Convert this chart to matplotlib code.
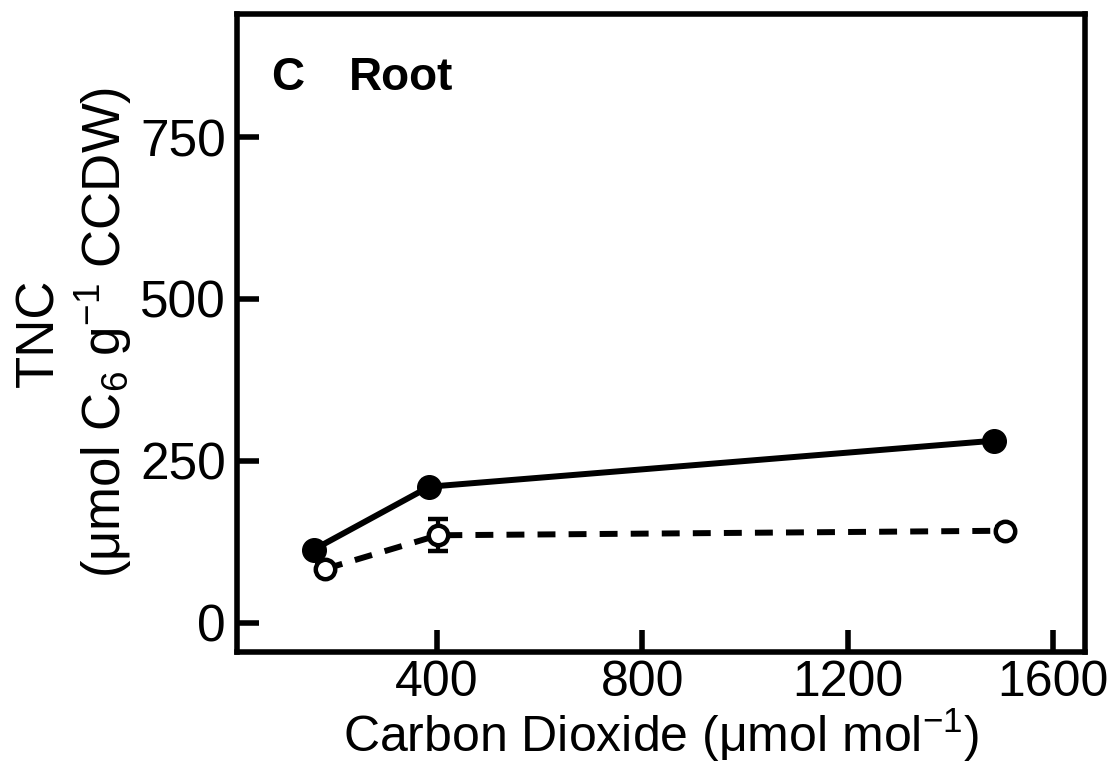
import matplotlib.pyplot as plt
import numpy as np

plt.rcParams['font.family'] = ['Liberation Sans', 'DejaVu Sans']
plt.rcParams['mathtext.fontset'] = 'custom'
plt.rcParams['mathtext.rm'] = 'Liberation Sans'
plt.rcParams['mathtext.it'] = 'Liberation Sans:italic'

# elevated-temperature (solid) and ambient (open) series
co2_solid = [160, 385, 1485]
tnc_solid = [113, 210, 281]
err_solid = [8, 10, 8]

co2_open = [182, 402, 1506]
tnc_open = [83, 135, 142]
err_open = [6, 25, 6]

xticks = [400, 800, 1200, 1600]
yticks = [0, 250, 500, 750]

fig = plt.figure(figsize=(11.17, 7.76), dpi=100)
ax = fig.add_axes([0.212, 0.160, 0.759, 0.822])

ax.errorbar(co2_solid, tnc_solid, yerr=err_solid, fmt='-o', color='black',
            lw=4.3, ms=17, mfc='black', mec='black', capsize=6, elinewidth=3,
            capthick=3, zorder=3)
ax.errorbar(co2_open, tnc_open, yerr=err_open, fmt='--o', color='black',
            lw=4.3, ms=14, mfc='white', mec='black', mew=3.2, capsize=7,
            elinewidth=3, capthick=4, dashes=(3, 2.2), zorder=3)

ax.set_xlim(10, 1662)
ax.set_ylim(-45, 940)
ax.set_xticks(xticks)
ax.set_yticks(yticks)
ax.tick_params(direction='in', length=16, width=4, labelsize=37, pad=8)
ax.tick_params(axis='x', labelsize=36, pad=6)
for s in ax.spines.values():
    s.set_linewidth(4)

ax.set_xlabel('Carbon Dioxide (\u03bcmol mol$^{-1}$)', fontsize=36, labelpad=0)
ax.set_ylabel('TNC\n(\u03bcmol C$_6$ g$^{-1}$ CCDW)', fontsize=38,
              linespacing=1.2, labelpad=4)

ax.text(0.040, 0.9, 'C', transform=ax.transAxes, fontsize=33,
        fontweight='bold', va='center')
ax.text(0.132, 0.9, 'Root', transform=ax.transAxes, fontsize=33,
        fontweight='bold', va='center')

fig.savefig('out.png', dpi=100)
